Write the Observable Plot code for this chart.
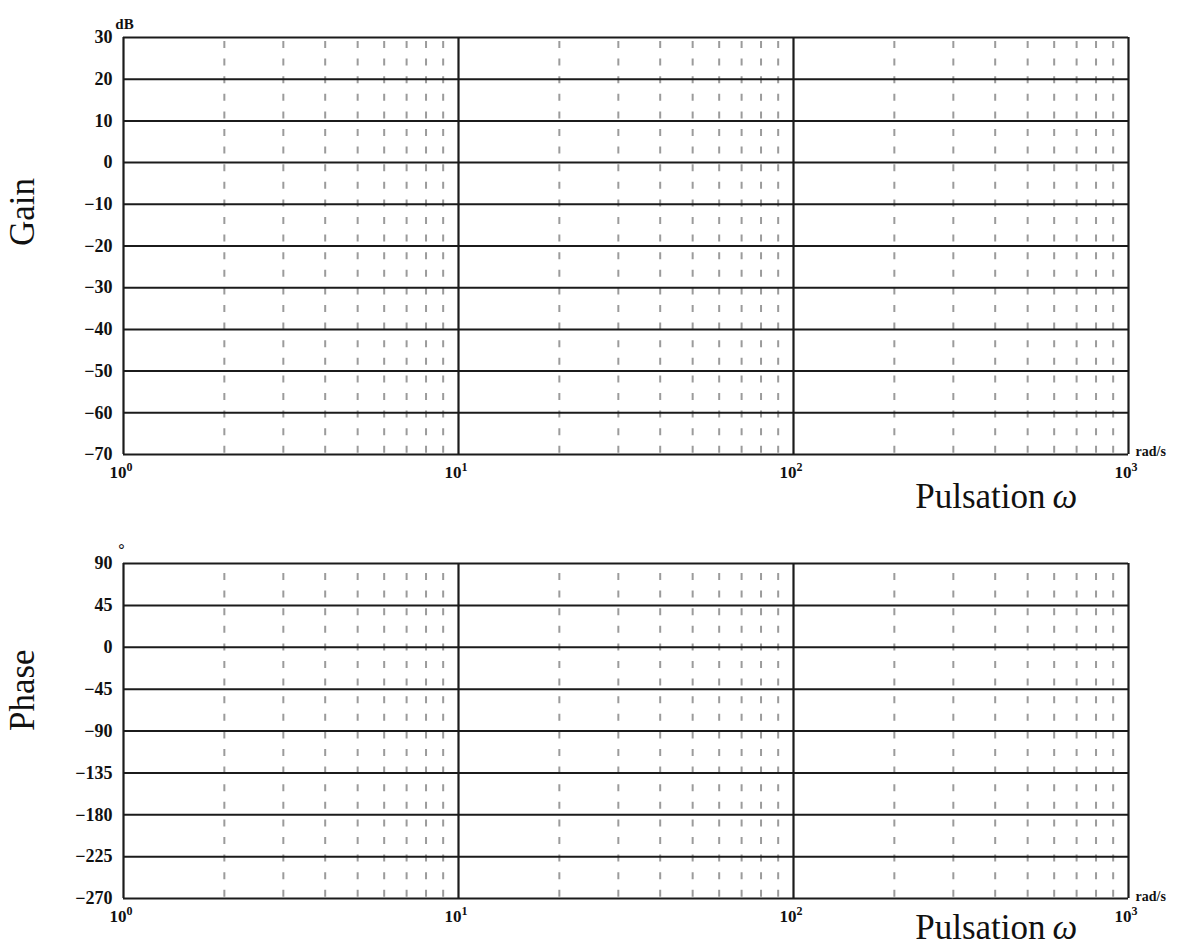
<!DOCTYPE html>
<html><head><meta charset="utf-8">
<script src="https://cdn.jsdelivr.net/npm/d3@7"></script>
<script src="https://cdn.jsdelivr.net/npm/@observablehq/plot@0.6"></script>
<style>
body{margin:0;background:#fff;}
#chart{position:relative;width:1185px;height:951px;background:#fff;}
#chart svg{display:block;}
</style></head><body><div id="chart"></div>
<script>
const gainTicks = [30, 20, 10, 0, -10, -20, -30, -40, -50, -60, -70];
const phaseTicks = [90, 45, 0, -45, -90, -135, -180, -225, -270];
const decades = [1, 10, 100, 1000];
const decadeExponents = ["0", "1", "2", "3"];
const minorFreqs = [2, 3, 4, 5, 6, 7, 8, 9, 20, 30, 40, 50, 60, 70, 80, 90, 200, 300, 400, 500, 600, 700, 800, 900];
const gainUnit = "dB";
const phaseUnit = "°";
const freqUnit = "rad/s";
const xLabel = "Pulsation";
const xSymbol = "ω";
const gainLabel = "Gain";
const phaseLabel = "Phase";

const FONT = '"Liberation Serif", "Times New Roman", serif';
const fmt = d => d < 0 ? "\u2212" + (-d) : String(d);

function panel(o) {
  const decadeData = decades.map((d, i) => ({f: d, e: decadeExponents[i]}));
  const t = o.ticks;
  return Plot.plot({
    width: 1185, height: o.height,
    marginLeft: 123, marginRight: 57, marginTop: o.marginTop, marginBottom: o.marginBottom,
    style: {fontFamily: FONT, background: "white", color: "#111"},
    x: {type: "log", domain: [1, 1000], axis: null},
    y: {domain: [t[t.length - 1], t[0]], axis: null},
    marks: [
      Plot.ruleX(minorFreqs, {stroke: "#9b9b9b", strokeWidth: 2, strokeDasharray: "7,10.6", strokeDashoffset: o.dashOffset}),
      Plot.ruleY(t, {stroke: "#1b1b1b", strokeWidth: 2}),
      Plot.ruleX(decades, {stroke: "#1b1b1b", strokeWidth: 2.2}),
      Plot.axisY(t, {tickSize: 0, tickPadding: 11, tickFormat: fmt, fontSize: 18, fontWeight: "bold", fontFamily: FONT, label: null}),
      Plot.text(decadeData, {x: "f", text: () => "10", frameAnchor: "bottom", dy: 23, dx: 3, textAnchor: "end", fontSize: 17, fontWeight: "bold", fontFamily: FONT}),
      Plot.text(decadeData, {x: "f", text: "e", frameAnchor: "bottom", dy: 16, dx: 3, textAnchor: "start", fontSize: 12, fontWeight: "bold", fontFamily: FONT}),
      Plot.text([o.unit], {frameAnchor: "top-left", dx: o.unitDx, dy: o.unitDy, textAnchor: "middle", fontSize: o.unitSize, fontWeight: "bold", fontFamily: FONT}),
      Plot.text([freqUnit], {frameAnchor: "bottom-right", dx: 7, dy: o.radDy, textAnchor: "start", fontSize: 14, fontWeight: "bold", fontFamily: FONT}),
      Plot.text([xLabel], {frameAnchor: "bottom-right", dx: -83, dy: o.xLabelDy, textAnchor: "end", lineAnchor: "bottom", fontSize: 35, fontFamily: FONT}),
      Plot.text([xSymbol], {frameAnchor: "bottom-right", dx: -76, dy: o.xLabelDy, textAnchor: "start", lineAnchor: "bottom", fontSize: 35, fontStyle: "italic", fontFamily: FONT}),
      Plot.text([o.label], {frameAnchor: "left", dx: -101, rotate: -90, fontSize: 35, fontFamily: FONT})
    ]
  });
}

const chart = document.getElementById("chart");
chart.append(panel({
  ticks: gainTicks, unit: gainUnit, label: gainLabel,
  height: 530, marginTop: 37, marginBottom: 76,
  dashOffset: 13.6, unitDx: 1, unitDy: -19, unitSize: 15, radDy: 1, xLabelDy: 53
}));
chart.append(panel({
  ticks: phaseTicks, unit: phaseUnit, label: phaseLabel,
  height: 421, marginTop: 33, marginBottom: 53,
  dashOffset: 7.6, unitDx: -2, unitDy: -20, unitSize: 16, radDy: 2, xLabelDy: 40
}));
</script>
</body></html>
